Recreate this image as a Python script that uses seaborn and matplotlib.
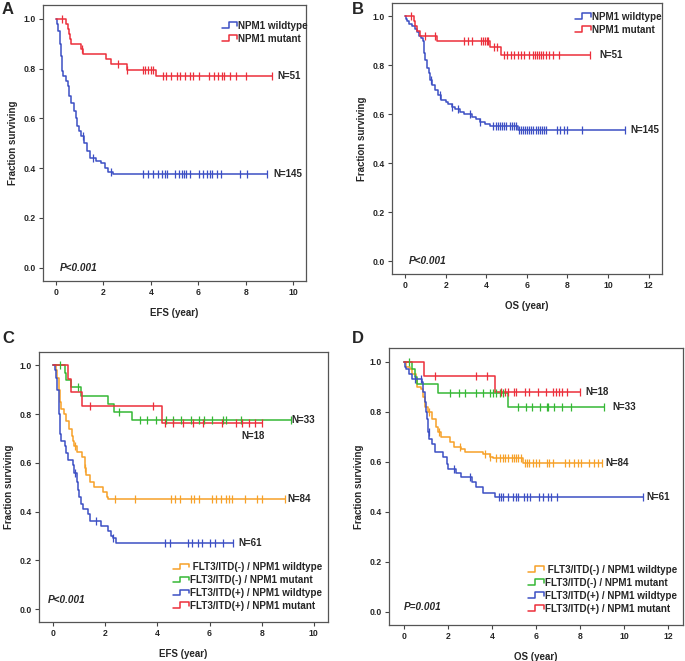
import numpy as np
import matplotlib.pyplot as plt
import seaborn as sns
from matplotlib.lines import Line2D
from matplotlib.legend_handler import HandlerBase

# ---- colours ----
BLUE = '#3c4fc4'
RED = '#ec2f3b'
GREEN = '#35b835'
ORANGE = '#f7a128'

# ---- Panel A: EFS by NPM1 ----
a_wt_t = [0.05, 0.1, 0.15, 0.2, 0.25, 0.3, 0.4, 0.5, 0.55, 0.65, 0.75, 0.85, 0.9, 0.95,
          1.05, 1.2, 1.3, 1.45, 1.7, 1.9, 2.05, 2.2, 2.4]
a_wt_s = [0.98, 0.95, 0.90, 0.85, 0.79, 0.77, 0.75, 0.73, 0.69, 0.66, 0.63, 0.60, 0.57, 0.55,
          0.53, 0.50, 0.47, 0.44, 0.43, 0.42, 0.40, 0.385, 0.375]
a_wt_c = [1.15, 1.55, 2.3, 3.65, 3.9, 4.1, 4.3, 4.45, 4.6, 4.7, 5.0, 5.2, 5.3, 5.4, 5.5, 5.65,
          6.05, 6.2, 6.35, 6.5, 6.6, 6.8, 6.95, 7.75, 8.05, 8.9]
a_mu_t = [0.4, 0.5, 0.55, 0.6, 0.65, 1.05, 1.15, 2.1, 2.3, 3.0, 4.2]
a_mu_s = [0.98, 0.96, 0.94, 0.92, 0.90, 0.88, 0.86, 0.84, 0.82, 0.795, 0.77]
a_mu_c = [0.25, 1.1, 2.6, 3.0, 3.65, 3.75, 3.9, 4.0, 4.1, 4.5, 4.65, 4.85, 5.1, 5.25, 5.45,
          5.65, 5.8, 6.05, 6.45, 6.65, 6.85, 7.0, 7.1, 7.35, 7.6, 8.0, 9.1]

# ---- Panel B: OS by NPM1 ----
b_wt_t = [0.05, 0.1, 0.2, 0.35, 0.45, 0.55, 0.65, 0.75, 0.85, 0.9, 0.92, 0.97, 1.05, 1.15,
          1.2, 1.3, 1.45, 1.6, 1.75, 2.0, 2.1, 2.3, 2.45, 2.7, 2.9, 3.3, 3.5, 3.7, 3.95, 4.2, 5.55]
b_wt_s = [0.99, 0.98, 0.97, 0.96, 0.95, 0.935, 0.92, 0.91, 0.90, 0.88, 0.85, 0.82, 0.79, 0.77,
          0.74, 0.72, 0.70, 0.68, 0.66, 0.65, 0.64, 0.63, 0.62, 0.61, 0.60, 0.59, 0.58, 0.57,
          0.56, 0.55, 0.535]
b_wt_c = [1.25, 1.7, 2.3, 2.6, 3.2, 3.7, 4.3, 4.45, 4.55, 4.65, 4.75, 4.85, 4.95, 5.15, 5.25,
          5.35, 5.45, 5.6, 5.7, 5.8, 5.9, 6.0, 6.1, 6.2, 6.3, 6.45, 6.55, 6.65, 6.75, 6.85,
          6.95, 7.5, 7.65, 7.85, 8.0, 8.7, 10.85]
b_mu_t = [0.4, 0.45, 0.55, 0.72, 1.54, 4.2, 4.72]
b_mu_s = [0.98, 0.96, 0.94, 0.92, 0.90, 0.874, 0.842]
b_mu_c = [0.3, 0.95, 1.45, 2.9, 3.1, 3.3, 3.75, 3.85, 3.95, 4.05, 4.1, 4.35, 4.5, 4.85, 5.0,
          5.2, 5.35, 5.55, 5.7, 5.85, 6.1, 6.3, 6.4, 6.5, 6.6, 6.7, 6.8, 6.95, 7.1, 7.3, 7.6, 9.1]

# ---- Panel C: EFS by FLT3/ITD and NPM1 ----
c_nw_t = [0.1, 0.15, 0.2, 0.25, 0.3, 0.4, 0.5, 0.6, 0.7, 0.75, 0.8, 0.9, 1.1, 1.2, 1.25,
          1.4, 1.55, 1.9, 2.05, 2.1]
c_nw_s = [0.98, 0.95, 0.90, 0.85, 0.82, 0.80, 0.77, 0.74, 0.71, 0.69, 0.67, 0.645, 0.625,
          0.58, 0.55, 0.52, 0.50, 0.48, 0.46, 0.45]
c_nw_c = [0.85, 1.2, 2.38, 3.14, 4.53, 4.66, 4.85, 5.29, 5.42, 5.61, 6.11, 6.24, 6.43, 6.62,
          6.75, 6.87, 7.38, 7.82, 8.01, 8.9]
c_nm_t = [0.45, 0.5, 0.67, 1.08, 2.09, 2.32, 3.04]
c_nm_s = [0.97, 0.94, 0.91, 0.875, 0.84, 0.81, 0.775]
c_nm_c = [0.27, 0.95, 2.54, 3.33, 3.58, 3.96, 4.34, 4.59, 4.91, 5.29, 5.61, 5.8, 6.11, 6.52,
          6.62, 7.19, 9.11]
c_pw_t = [0.05, 0.1, 0.15, 0.2, 0.22, 0.25, 0.3, 0.45, 0.5, 0.55, 0.75, 0.8, 0.9, 0.95, 1.0,
          1.05, 1.15, 1.35, 1.4, 1.85, 2.1, 2.2, 2.3, 2.4]
c_pw_s = [0.98, 0.95, 0.90, 0.85, 0.80, 0.72, 0.69, 0.67, 0.64, 0.61, 0.59, 0.56, 0.52, 0.49,
          0.46, 0.43, 0.41, 0.39, 0.36, 0.34, 0.32, 0.30, 0.29, 0.27]
c_pw_c = [0.85, 1.65, 2.3, 4.3, 4.47, 5.19, 5.33, 5.54, 5.7, 6.0, 6.2, 6.5, 6.9]
c_pm_t = [0.55, 0.67, 1.09, 4.19]
c_pm_s = [0.944, 0.889, 0.833, 0.764]
c_pm_c = [1.4, 3.81, 4.3, 4.6, 4.97, 5.35, 5.73, 6.49, 7.0, 7.25, 7.5, 7.76, 8.01]

# ---- Panel D: OS by FLT3/ITD and NPM1 ----
d_nw_t = [0.1, 0.3, 0.4, 0.55, 0.6, 0.8, 0.9, 0.95, 1.1, 1.3, 1.45, 1.55, 1.7, 2.1, 2.3,
          2.6, 2.8, 3.6, 3.9, 4.05, 5.43]
d_nw_s = [0.98, 0.97, 0.95, 0.93, 0.90, 0.89, 0.86, 0.82, 0.80, 0.77, 0.74, 0.72, 0.70,
          0.68, 0.66, 0.65, 0.64, 0.63, 0.62, 0.615, 0.593]
d_nw_c = [1.15, 1.6, 2.55, 3.7, 3.9, 4.2, 4.35, 4.5, 4.6, 4.75, 4.9, 5.0, 5.1, 5.2, 5.3, 5.5,
          5.6, 5.7, 5.85, 6.0, 6.15, 6.5, 6.6, 6.75, 7.3, 7.5, 7.7, 7.9, 8.05, 8.4, 8.65, 8.8, 9.0]
d_nm_t = [0.4, 0.5, 0.6, 1.55, 4.75]
d_nm_s = [0.97, 0.94, 0.91, 0.875, 0.82]
d_nm_c = [0.25, 2.1, 2.5, 2.8, 3.3, 3.6, 3.9, 4.05, 4.2, 4.35, 4.5, 5.2, 5.55, 5.8, 6.2,
          6.5, 6.55, 6.8, 7.2, 7.6, 9.07]
d_pw_t = [0.05, 0.1, 0.25, 0.4, 0.85, 0.9, 0.95, 1.0, 1.05, 1.12, 1.17, 1.3, 1.4, 1.8, 1.95,
          2.0, 2.38, 2.6, 3.1, 3.28, 3.58, 4.15]
d_pw_s = [0.98, 0.97, 0.95, 0.93, 0.92, 0.88, 0.84, 0.80, 0.77, 0.72, 0.69, 0.67, 0.64,
          0.62, 0.59, 0.57, 0.555, 0.54, 0.52, 0.50, 0.475, 0.46]
d_pw_c = [0.5, 0.8, 1.15, 2.3, 3.0, 4.3, 4.4, 4.5, 4.75, 4.95, 5.1, 5.2, 5.45, 5.6, 5.75,
          6.15, 6.3, 6.55, 6.7, 6.95, 10.83]
d_pm_t = [0.93, 4.15]
d_pm_s = [0.944, 0.88]
d_pm_c = [1.4, 3.3, 3.8, 4.4, 4.6, 4.75, 5.0, 5.1, 5.5, 5.7, 6.1, 6.45, 6.75, 6.9, 7.05,
          7.2, 7.4, 8.0]

npm_labels = ['NPM1 wildtype', 'NPM1 mutant']
combo_labels = [' FLT3/ITD(-) / NPM1 wildtype', 'FLT3/ITD(-) / NPM1 mutant',
                'FLT3/ITD(+) / NPM1 wildtype', 'FLT3/ITD(+) / NPM1 mutant']

sns.set_style('white')
plt.rcParams['font.family'] = ['Liberation Sans', 'DejaVu Sans']
plt.rcParams['font.weight'] = 'bold'


class StepHandler(HandlerBase):
    # little step-shaped legend key, like SPSS draws
    def create_artists(self, legend, orig_handle, xdescent, ydescent, width, height, fontsize, trans):
        x = np.array([0.0, 0.45, 0.45, 1.0, 1.0]) * width - xdescent
        y = np.array([0.1, 0.1, 0.9, 0.9, 0.4]) * height - ydescent
        ln = Line2D(x, y, color=orig_handle.get_color(), lw=1.1)
        ln.set_transform(trans)
        return [ln]


def km(ax, t, s, cens, color):
    end = max(cens)
    xs = [0.0] + list(t) + [end]
    ys = [1.0] + list(s) + [s[-1]]
    sns.lineplot(x=xs, y=ys, drawstyle='steps-post', color=color, lw=1.1,
                 estimator=None, sort=False, ax=ax)
    steps_y = np.array([1.0] + list(s))
    idx = np.searchsorted(np.array(t), np.array(cens), side='right')
    sns.scatterplot(x=cens, y=steps_y[idx], marker='|', s=34, color=color,
                    linewidth=0.9, ax=ax, zorder=3)


def style(ax, xmax, xlabel):
    ax.set_xlim(-0.055 * xmax, xmax * 1.005 + 0.05 * xmax)
    ax.set_ylim(-0.053, 1.055)
    ax.set_xticks(np.arange(0, xmax + 0.1, 2))
    ax.set_yticks(np.arange(0, 1.01, 0.2))
    ax.set_yticklabels([f'{v:.1f}' for v in np.arange(0, 1.01, 0.2)])
    ax.tick_params(direction='out', length=3, width=0.8, color='#444', labelsize=6.2,
                   left=True, bottom=True, pad=2)
    for lab in ax.get_xticklabels() + ax.get_yticklabels():
        lab.set_fontweight('bold')
    for sp in ax.spines.values():
        sp.set_color('#555')
        sp.set_linewidth(0.9)
    ax.set_xlabel(xlabel, fontsize=7, fontweight='bold', labelpad=8)
    ax.set_ylabel('Fraction surviving', fontsize=7, fontweight='bold', labelpad=4)


def legend(ax, colors, labels, **kw):
    hs = [Line2D([0], [0], color=c, label=l) for c, l in zip(colors, labels)]
    ax.legend(handles=hs, handler_map={Line2D: StepHandler()}, frameon=False,
              prop={'size': 7.1, 'weight': 'bold'}, handlelength=1.6, handletextpad=0.1,
              labelspacing=0.3, borderaxespad=0.2, **kw)


fig = plt.figure(figsize=(6.85, 6.61), dpi=100)
axA = fig.add_axes([0.0628, 0.5749, 0.384, 0.4175])
axB = fig.add_axes([0.5723, 0.5855, 0.394, 0.41])
axC = fig.add_axes([0.0569, 0.059, 0.422, 0.4085])
axD = fig.add_axes([0.568, 0.0545, 0.429, 0.419])

# A
km(axA, a_wt_t, a_wt_s, a_wt_c, BLUE)
km(axA, a_mu_t, a_mu_s, a_mu_c, RED)
style(axA, 10, 'EFS (year)')
legend(axA, [BLUE, RED], npm_labels, loc='upper right', bbox_to_anchor=(1.03, 0.965))
axA.text(9.35, 0.77, 'N=51', fontsize=7, fontweight='bold', va='center')
axA.text(9.15, 0.375, 'N=145', fontsize=7, fontweight='bold', va='center')
axA.text(0.15, 0.0, 'P<0.001', fontsize=7.2, fontweight='bold', style='italic', va='center')

# B
km(axB, b_wt_t, b_wt_s, b_wt_c, BLUE)
km(axB, b_mu_t, b_mu_s, b_mu_c, RED)
style(axB, 12, 'OS (year)')
legend(axB, [BLUE, RED], npm_labels, loc='upper right', bbox_to_anchor=(1.02, 0.99))
axB.text(9.55, 0.842, 'N=51', fontsize=7, fontweight='bold', va='center')
axB.text(11.1, 0.535, 'N=145', fontsize=7, fontweight='bold', va='center')
axB.text(0.15, 0.0, 'P<0.001', fontsize=7.2, fontweight='bold', style='italic', va='center')

# C
km(axC, c_nw_t, c_nw_s, c_nw_c, ORANGE)
km(axC, c_nm_t, c_nm_s, c_nm_c, GREEN)
km(axC, c_pw_t, c_pw_s, c_pw_c, BLUE)
km(axC, c_pm_t, c_pm_s, c_pm_c, RED)
style(axC, 10, 'EFS (year)')
legend(axC, [ORANGE, GREEN, BLUE, RED], combo_labels, loc='lower right',
       bbox_to_anchor=(1.0, 0.02))
axC.text(9.15, 0.775, 'N=33', fontsize=7, fontweight='bold', va='center')
axC.text(7.23, 0.71, 'N=18', fontsize=7, fontweight='bold', va='center')
axC.text(9.0, 0.45, 'N=84', fontsize=7, fontweight='bold', va='center')
axC.text(7.1, 0.27, 'N=61', fontsize=7, fontweight='bold', va='center')
axC.text(-0.2, 0.037, 'P<0.001', fontsize=7.2, fontweight='bold', style='italic', va='center')

# D
km(axD, d_nw_t, d_nw_s, d_nw_c, ORANGE)
km(axD, d_nm_t, d_nm_s, d_nm_c, GREEN)
km(axD, d_pw_t, d_pw_s, d_pw_c, BLUE)
km(axD, d_pm_t, d_pm_s, d_pm_c, RED)
style(axD, 12, 'OS (year)')
legend(axD, [ORANGE, GREEN, BLUE, RED], combo_labels, loc='lower right',
       bbox_to_anchor=(1.0, 0.02))
axD.text(8.24, 0.88, 'N=18', fontsize=7, fontweight='bold', va='center')
axD.text(9.44, 0.82, 'N=33', fontsize=7, fontweight='bold', va='center')
axD.text(9.14, 0.593, 'N=84', fontsize=7, fontweight='bold', va='center')
axD.text(11.02, 0.46, 'N=61', fontsize=7, fontweight='bold', va='center')
axD.text(0.0, 0.017, 'P=0.001', fontsize=7.2, fontweight='bold', style='italic', va='center')

for lbl, x, y in [('A', 0.003, 0.997), ('B', 0.514, 0.997), ('C', 0.003, 0.499), ('D', 0.514, 0.499)]:
    fig.text(x, y, lbl, fontsize=12, fontweight='bold', va='top', ha='left')

fig.savefig('out.png', dpi=100)
